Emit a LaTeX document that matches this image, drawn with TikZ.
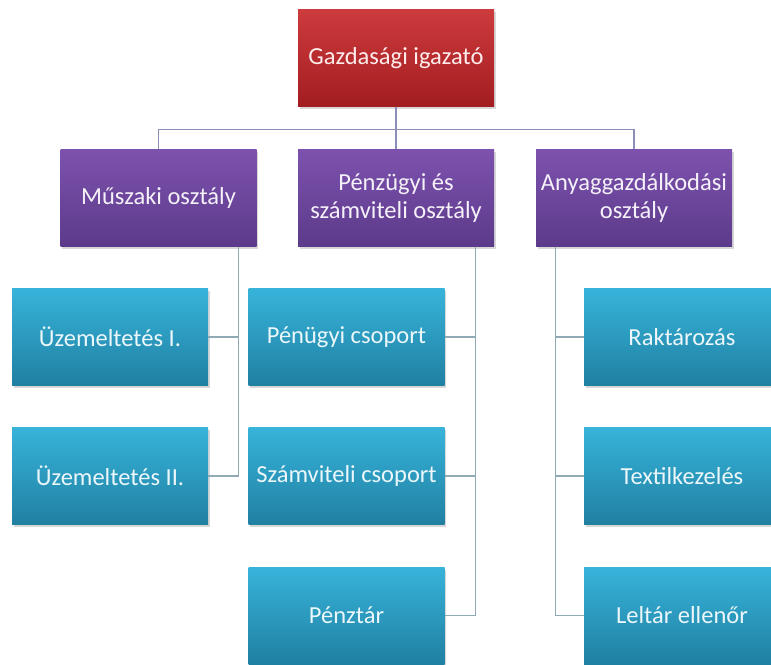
\documentclass[tikz,border=0pt]{standalone}
\usepackage{fontspec}
\setmainfont{Carlito}
\usetikzlibrary{shadows,calc}
\definecolor{redtop}{HTML}{CD3B3D}
\definecolor{redbot}{HTML}{A21D20}
\definecolor{purtop}{HTML}{7D52AE}
\definecolor{purbot}{HTML}{5C3A8A}
\definecolor{cyantop}{HTML}{37B3DA}
\definecolor{cyanbot}{HTML}{2080A2}
\definecolor{toplinec}{HTML}{8C8EB8}
\definecolor{lowlinec}{HTML}{8FAAB4}
\tikzset{
  box/.style={rectangle, minimum width=196pt, minimum height=97pt, inner sep=2pt,
    align=center, font=\fontsize{24.5}{28}\selectfont,
    drop shadow={opacity=0.3, shadow xshift=1.5pt, shadow yshift=-2.5pt}},
  redbox/.style={box, top color=redtop, bottom color=redbot, text=white!93!red},
  purbox/.style={box, top color=purtop, bottom color=purbot, text=white!92!purtop},
  cyanbox/.style={box, top color=cyantop, bottom color=cyanbot, text=white!90!cyantop},
  topline/.style={draw=toplinec, line width=1.2pt},
  lowline/.style={draw=lowlinec, line width=1.2pt}
}
\begin{document}
\begin{tikzpicture}[x=1pt,y=-1pt]
\fill[white] (0,0) rectangle (771,664);
\useasboundingbox (0,0) rectangle (771,664);
\clip (0,0) rectangle (771,664);
% nodes
\node[redbox] (g) at (396,58) {Gazdasági igazató};
\node[purbox] (m) at (158.5,198) {Műszaki osztály};
\node[purbox] (p) at (396,198) {Pénzügyi és\\számviteli osztály};
\node[purbox] (a) at (634,198) {Anyaggazdálkodási\\osztály};
\node[cyanbox] (u1) at (110,337) {Üzemeltetés I.};
\node[cyanbox] (u2) at (110,476) {Üzemeltetés II.};
\node[cyanbox] (pc) at (346.5,337) {Pénügyi csoport};
\node[cyanbox] (sc) at (346.5,476) {Számviteli csoport};
\node[cyanbox] (pt) at (346.5,615.5) {Pénztár};
\node[cyanbox] (rk) at (682,337) {Raktározás};
\node[cyanbox] (tx) at (682,476) {Textilkezelés};
\node[cyanbox] (le) at (682,615.5) {Leltár ellenőr};
% connectors top
\coordinate (bus) at ($(g.south)+(0,23)$);
\draw[topline] (g.south) -- (bus) -| (m.north);
\draw[topline] (bus) -- (p.north);
\draw[topline] (bus) -| (a.north);
% connectors lower
\coordinate (mo) at ([xshift=-18pt]m.south east);
\coordinate (po) at ([xshift=-19pt]p.south east);
\coordinate (ao) at ([xshift=20pt]a.south west);
\draw[lowline] (mo) |- (u1.east);
\draw[lowline] (mo) |- (u2.east);
\draw[lowline] (po) |- (pc.east);
\draw[lowline] (po) |- (sc.east);
\draw[lowline] (po) |- (pt.east);
\draw[lowline] (ao) |- (rk.west);
\draw[lowline] (ao) |- (tx.west);
\draw[lowline] (ao) |- (le.west);
\end{tikzpicture}
\end{document}
